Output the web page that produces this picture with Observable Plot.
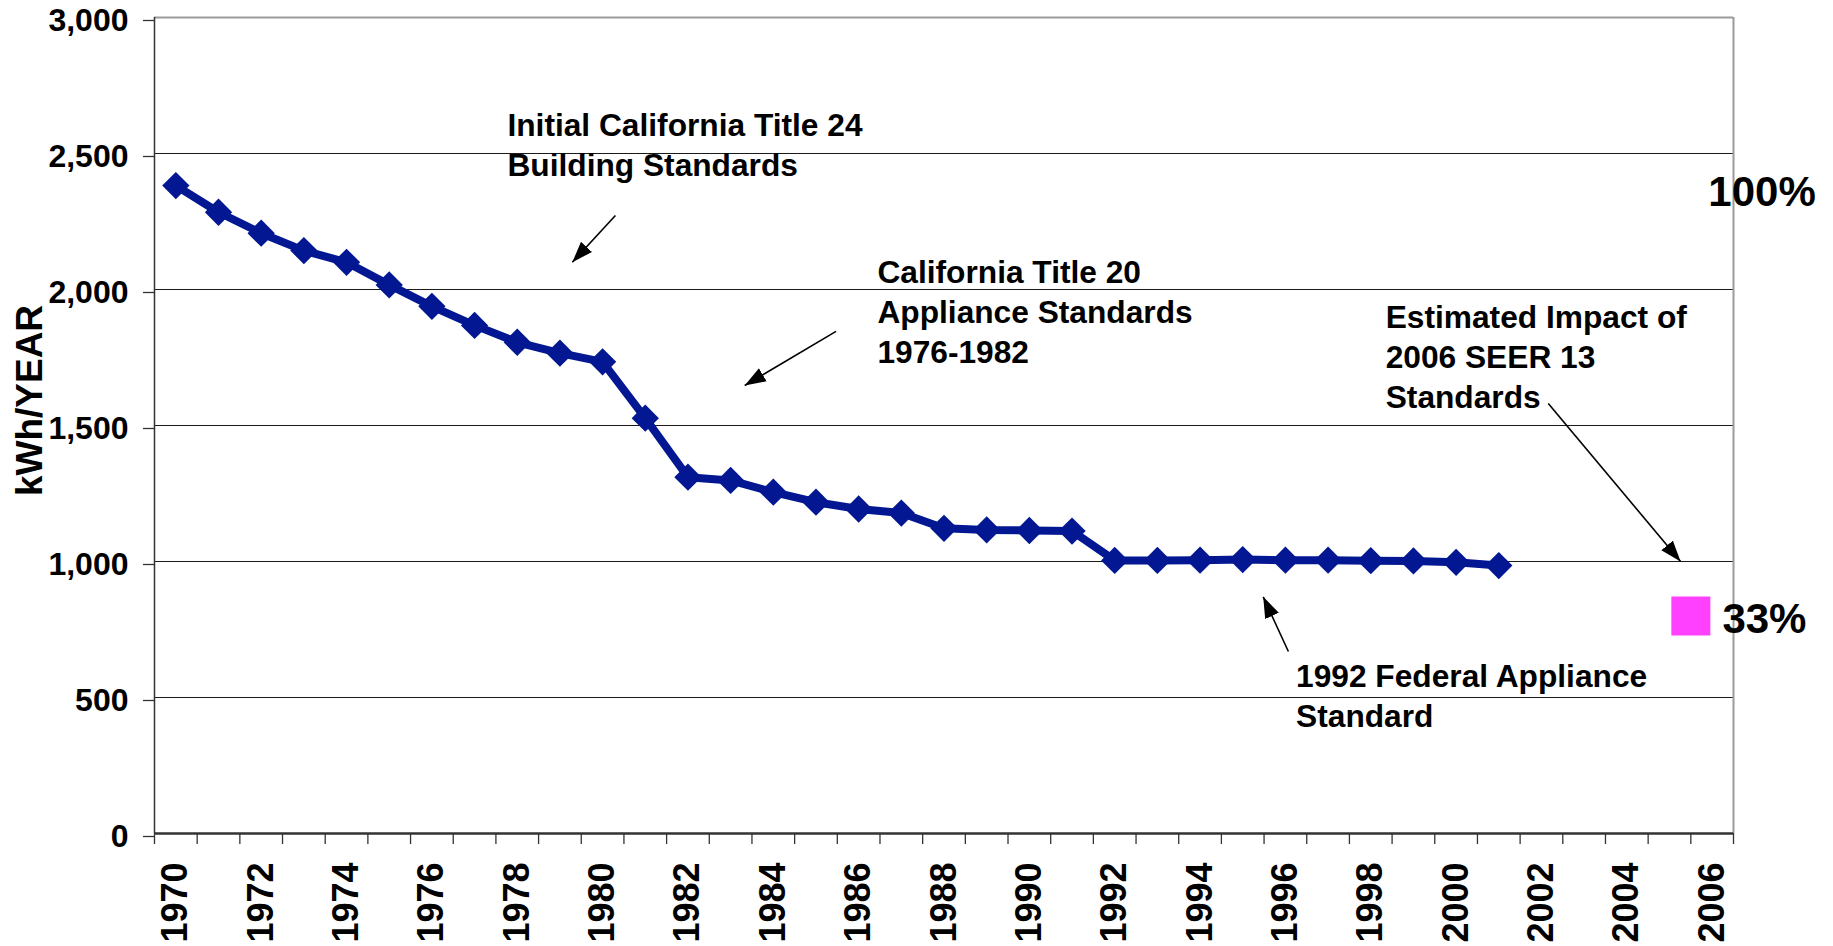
<!DOCTYPE html>
<html>
<head>
<meta charset="utf-8">
<script src="https://cdn.jsdelivr.net/npm/d3@7"></script>
<script src="https://cdn.jsdelivr.net/npm/@observablehq/plot@0.6"></script>
<style>
  html, body { margin: 0; padding: 0; background: #ffffff; }
</style>
</head>
<body>
<div id="chart"></div>
<script>
// ---- Data ----
const years = [1970,1971,1972,1973,1974,1975,1976,1977,1978,1979,1980,1981,1982,1983,1984,1985,
               1986,1987,1988,1989,1990,1991,1992,1993,1994,1995,1996,1997,1998,1999,2000,2001];
const kwhPerYear = [2382,2284,2207,2143,2100,2017,1938,1868,1806,1766,1734,1527,1310,1298,1255,1218,
                    1193,1178,1122,1116,1114,1112,1004,1004,1005,1007,1005,1005,1003,1002,997,985];

const seerYears = [2006];
const seerValues = [800];

const categoryYears = d3.range(1970, 2007);          // 1970 ... 2006 (category axis)
const labelYears = ["1970","1972","1974","1976","1978","1980","1982","1984","1986","1988","1990",
                    "1992","1994","1996","1998","2000","2002","2004","2006"];
const yTicks = [0, 500, 1000, 1500, 2000, 2500, 3000];
const yLabel = "kWh/YEAR";

const annotationTexts = [
  "Initial California Title 24\nBuilding Standards",
  "California Title 20\nAppliance Standards\n1976-1982",
  "Estimated Impact of\n2006 SEER 13\nStandards",
  "1992 Federal Appliance\nStandard"
];
const annotationX = [1977.77, 1986.44, 1998.35, 1996.25];
const annotationY = [2668, 2129, 1963, 644];

const percentTexts = ["100%", "33%"];
const percentX = [2005.91, 2006.24];
const percentY = [2415, 845];

const arrowX1 = [1980.30, 1985.47, 2002.16, 1996.07];
const arrowY1 = [2272, 1846, 1581, 669];
const arrowX2 = [1979.29, 1983.33, 2005.26, 1995.48];
const arrowY2 = [2100, 1647, 1000, 870];

// ---- Tables built from the arrays ----
const series = years.map((x, i) => ({x, y: kwhPerYear[i]}));
const seer = seerYears.map((x, i) => ({x, y: seerValues[i]}));
const annotations = annotationTexts.map((t, i) => ({t, x: annotationX[i], y: annotationY[i]}));
const percents = percentTexts.map((t, i) => ({t, x: percentX[i], y: percentY[i]}));
const arrows = arrowX1.map((x1, i) => ({x1, y1: arrowY1[i], x2: arrowX2[i], y2: arrowY2[i]}));
const yearLabels = labelYears.map(s => ({x: +s, t: s}));

const xDomain = [categoryYears[0] - 0.5, categoryYears[categoryYears.length - 1] + 0.5];
const boundaries = [...categoryYears.map(y => y - 0.5), xDomain[1]];
const gridValues = yTicks.filter(v => v > 0 && v < 3000);

const navy = "#021791";
const font = "'Liberation Sans', Arial, sans-serif";

const chart = Plot.plot({
  width: 1833,
  height: 946,
  marginLeft: 154,
  marginRight: 100,
  marginTop: 17,
  marginBottom: 113,
  style: {fontFamily: font, fontWeight: "bold", fontSize: "31px", color: "#000", background: "#fff"},
  x: {domain: xDomain},
  y: {domain: [0, 3000]},
  marks: [
    Plot.ruleY(gridValues, {stroke: "#1a1a1a", strokeWidth: 1.2}),
    Plot.ruleY([3000], {stroke: "#9a9a9a", strokeWidth: 2}),
    Plot.ruleX([xDomain[1]], {stroke: "#9a9a9a", strokeWidth: 2}),
    Plot.ruleX([xDomain[0]], {stroke: "#333", strokeWidth: 1.5}),
    Plot.ruleY([0], {stroke: "#333", strokeWidth: 2.5}),
    Plot.axisX({ticks: boundaries, tickSize: 11, tickFormat: () => "", stroke: "#333", strokeWidth: 1.3}),
    Plot.text(yearLabels, {x: "x", text: "t", frameAnchor: "bottom", dy: 29, rotate: -90, textAnchor: "end",
                           lineAnchor: "middle", fontSize: 36, fontWeight: "bold", fill: "#000"}),
    Plot.axisY({ticks: yTicks, tickSize: 11, tickPadding: 15, tickFormat: d3.format(","), fontSize: 32,
                label: null, stroke: "#333", strokeWidth: 1.3, dy: 3}),
    Plot.text([yLabel], {frameAnchor: "left", textAnchor: "middle", lineAnchor: "middle", dx: -124, dy: -25,
                         rotate: -90, fontSize: 37, fontWeight: "bold", fill: "#000"}),
    Plot.line(series, {x: "x", y: "y", stroke: navy, strokeWidth: 8, strokeLinejoin: "round"}),
    Plot.dot(series, {x: "x", y: "y", symbol: "diamond2", r: 12.3, fill: navy, stroke: "none"}),
    Plot.dot(seer, {x: "x", y: "y", symbol: "square", r: 22, fill: "#FF40FF", stroke: "none", dx: -21.3}),
    Plot.text(annotations, {x: "x", y: "y", text: "t", textAnchor: "start", lineAnchor: "top",
                            lineHeight: 1.26, fontSize: 31.7, fontWeight: "bold", fill: "#000"}),
    Plot.text(percents, {x: "x", y: "y", text: "t", textAnchor: "start", lineAnchor: "top",
                         fontSize: 42, fontWeight: "bold", fill: "#000"}),
    Plot.link(arrows, {x1: "x1", y1: "y1", x2: "x2", y2: "y2", stroke: "#000", strokeWidth: 1.6, markerEnd: "arrow"})
  ]
});

// Filled triangular arrowheads like the reference
chart.querySelectorAll("marker").forEach(m => {
  m.setAttribute("viewBox", "-21 -8 21 16");
  m.setAttribute("markerWidth", "21");
  m.setAttribute("markerHeight", "16");
  m.setAttribute("markerUnits", "userSpaceOnUse");
  m.setAttribute("refX", "0");
  m.setAttribute("refY", "0");
  m.setAttribute("orient", "auto");
  m.setAttribute("fill", "#000");
  m.setAttribute("stroke", "none");
  while (m.firstChild) m.removeChild(m.firstChild);
  const p = document.createElementNS("http://www.w3.org/2000/svg", "path");
  p.setAttribute("d", "M0,0L-21,-7.5L-21,7.5Z");
  m.appendChild(p);
});

document.getElementById("chart").appendChild(chart);
</script>
</body>
</html>
